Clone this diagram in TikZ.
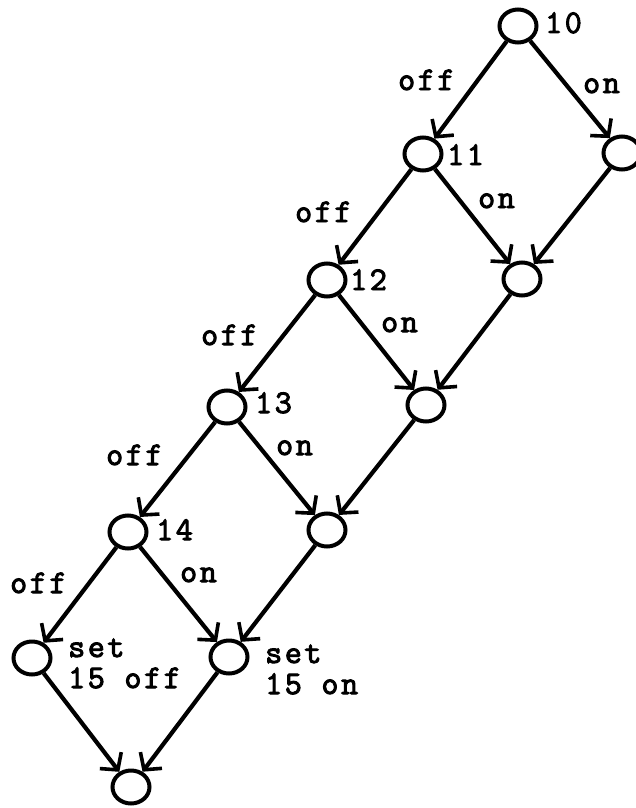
\documentclass[tikz,border=0pt]{standalone}
\usepackage{fontspec}
\usetikzlibrary{arrows.meta,shapes.geometric}
\newfontfamily\lblfont[LetterSpace=8,FakeBold=3]{Latin Modern Mono}
\tikzset{
  st/.style={draw, ellipse, line width=4pt, minimum width=37pt, minimum height=33pt, inner sep=0pt},
  lbl/.style={anchor=base west, inner sep=0pt, font=\lblfont\fontsize{33}{31}\selectfont},
  tr/.style={line width=4.2pt, -{Straight Barb[length=12pt,width=27pt,line width=3.6pt]}},
}
\begin{document}
\begin{tikzpicture}[x=1pt,y=-1pt]
\useasboundingbox (0,0) rectangle (636,808);
\clip (0,0) rectangle (636,808);
% states
\node[st] (n10) at (518,26) {};
\node[st] (n11) at (423,154) {};
\node[st] (r1) at (622,153) {};
\node[st] (n12) at (327,280) {};
\node[st] (r2) at (522,279) {};
\node[st] (n13) at (227,407) {};
\node[st] (r3) at (426,405) {};
\node[st] (n14) at (128,532) {};
\node[st] (r4) at (327,530) {};
\node[st] (s0) at (32,658) {};
\node[st] (s1) at (229,657) {};
\node[st] (bot) at (131,787) {};
% transitions
\draw[tr] (n10) -- (n11);
\draw[tr] (n10) -- (r1);
\draw[tr] (n11) -- (n12);
\draw[tr] (n11) -- (r2);
\draw[tr] (r1) -- (r2);
\draw[tr] (n12) -- (n13);
\draw[tr] (n12) -- (r3);
\draw[tr] (r2) -- (r3);
\draw[tr] (n13) -- (n14);
\draw[tr] (n13) -- (r4);
\draw[tr] (r3) -- (r4);
\draw[tr] (n14) -- (s0);
\draw[tr] (n14) -- (s1);
\draw[tr] (r4) -- (s1);
\draw[tr] (s0) -- (bot);
\draw[tr] (s1) -- (bot);
% number labels
\node[lbl] (t10) at (545,33) {10};
\node[lbl] (t11) at (447,165) {11};
\node[lbl] (t12) at (350,290) {12};
\node[lbl] (t13) at (255,413) {13};
\node[lbl] (t14) at (156,540) {14};
% edge labels
\node[lbl] (o10) at (398,90) {off};
\node[lbl] (p10) at (583,93) {on};
\node[lbl] (o11) at (295,222) {off};
\node[lbl] (p11) at (478,208) {on};
\node[lbl] (o12) at (201,345) {off};
\node[lbl] (p12) at (381,332) {on};
\node[lbl] (o13) at (106,465) {off};
\node[lbl] (p13) at (276,455) {on};
\node[lbl] (o14) at (10,593) {off};
\node[lbl] (p14) at (180,582) {on};
% set labels
\node[lbl] (set0) at (68,657) {\begin{tabular}[t]{@{}l@{}}set\\15 off\end{tabular}};
\node[lbl] (set1) at (265,663) {\begin{tabular}[t]{@{}l@{}}set\\15 on\end{tabular}};
\end{tikzpicture}
\end{document}
